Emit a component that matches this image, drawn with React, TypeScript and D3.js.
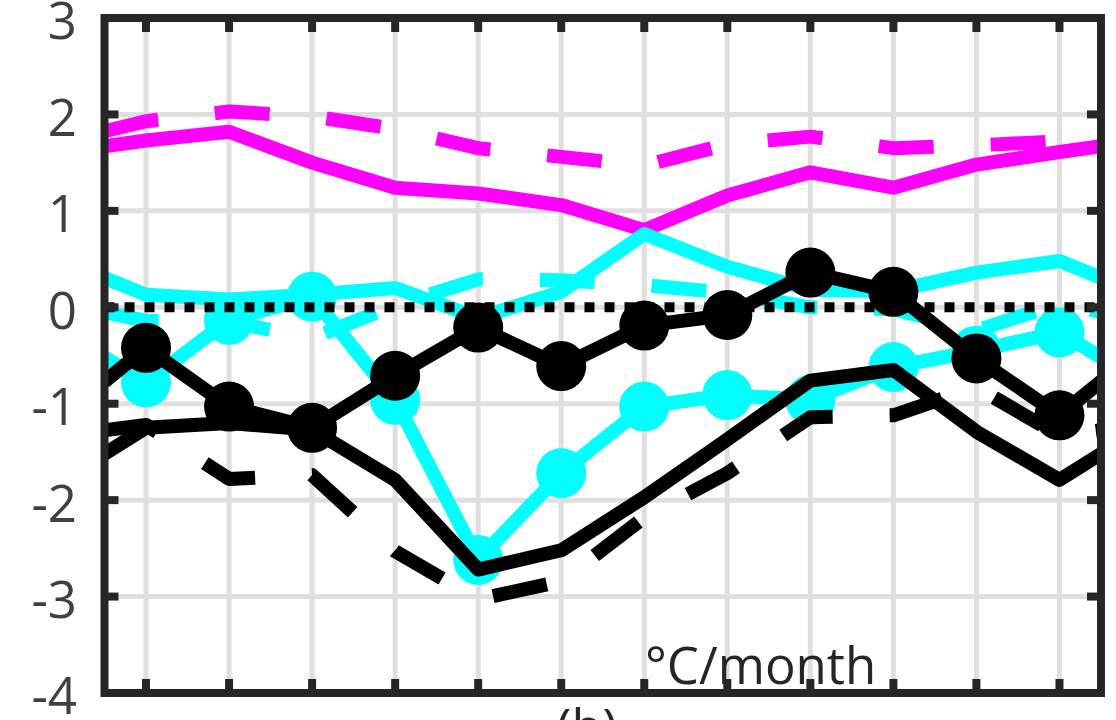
import React from "react";
import * as d3 from "d3";

const months = [1, 2, 3, 4, 5, 6, 7, 8, 9, 10, 11, 12];
const yTicks = [-4, -3, -2, -1, 0, 1, 2, 3];
const yTickLabels = ["-4", "-3", "-2", "-1", "0", "1", "2", "3"];

const magentaSolid = [1.73, 1.82, 1.5, 1.24, 1.18, 1.06, 0.8, 1.16, 1.4, 1.24, 1.48, 1.61];
const magentaDashed = [1.93, 2.03, 1.98, 1.85, 1.65, 1.56, 1.47, 1.69, 1.77, 1.65, 1.68, 1.72];
const cyanSolid = [0.13, 0.08, 0.13, 0.2, -0.11, 0.16, 0.76, 0.42, 0.18, 0.17, 0.36, 0.48];
const cyanDashed = [-0.14, -0.15, -0.32, 0.02, 0.29, 0.28, 0.23, 0.15, 0.0, -0.02, -0.24, 0.04];
const cyanMarked = [-0.78, -0.13, 0.11, -0.96, -2.62, -1.72, -1.03, -0.91, -0.96, -0.62, -0.45, -0.26];
const blackSolid = [-1.25, -1.2, -1.27, -1.79, -2.72, -2.52, -1.97, -1.37, -0.76, -0.65, -1.29, -1.79];
const blackDashed = [-1.22, -1.78, -1.74, -2.53, -3.03, -2.84, -2.18, -1.72, -1.14, -1.12, -0.83, -1.33];
const blackMarked = [-0.42, -1.03, -1.25, -0.71, -0.21, -0.61, -0.19, -0.08, 0.36, 0.16, -0.53, -1.12];

const unitLabel = "°C/month";
const panelLabel = "(b)";

const W = 1116;
const H = 720;
const XL = 104.5;
const XR = 1101;
const YT = 18;
const YB = 693;

const x = d3.scaleLinear().domain([0.5, 12.5]).range([XL, XR]);
const y = d3.scaleLinear().domain([-4, 3]).range([YB, YT]);

type P = [number, number];

// periodic (wrapped) series: December before January, January after December
function wrapped(vals: number[]): P[] {
  const pts: P[] = [[0, vals[11]], ...vals.map((v, i) => [months[i], v] as P), [13, vals[0]]];
  return pts.map(([m, v]) => [x(m), y(v)] as P);
}

// clip polyline in pixel space to [xl, xr]
function clipX(pts: P[], xl: number, xr: number): P[] {
  const out: P[] = [];
  for (let i = 0; i < pts.length - 1; i++) {
    const [x0, y0] = pts[i];
    const [x1, y1] = pts[i + 1];
    const a = Math.max(x0, xl);
    const b = Math.min(x1, xr);
    if (a > b) continue;
    const f = (xx: number) => y0 + ((xx - x0) / (x1 - x0)) * (y1 - y0);
    if (out.length === 0) out.push([a, f(a)]);
    out.push([b, f(b)]);
  }
  return out;
}

const line = d3.line<P>().x((d) => d[0]).y((d) => d[1]);

function seriesPath(vals: number[]) {
  return line(clipX(wrapped(vals), XL, XR)) || "";
}

const MAGENTA = "#ff00ff";
const CYAN = "#00ffff";
const BLACK = "#000000";
const AXIS = "#262626";
const GRID = "#dfdfdf";
const LW = 14;
const DASH = "55 57";

export default function App() {
  const font = "'Open Sans', 'Noto Sans', sans-serif";
  return (
    <svg
      width={W}
      height={H}
      style={{ position: "absolute", left: 0, top: 0, background: "#fff" }}
      xmlns="http://www.w3.org/2000/svg"
    >
      <defs>
        <clipPath id="plotClip">
          <rect x={XL} y={YT} width={XR - XL} height={YB - YT} />
        </clipPath>
      </defs>
      <rect x={0} y={0} width={W} height={H} fill="#fff" />
      {/* grid */}
      <g stroke={GRID} strokeWidth={5}>
        {months.map((m) => (
          <line key={"vg" + m} x1={x(m)} x2={x(m)} y1={YT} y2={YB} />
        ))}
        {yTicks
          .filter((v) => v > -4 && v < 3)
          .map((v) => (
            <line key={"hg" + v} x1={XL} x2={XR} y1={y(v)} y2={y(v)} />
          ))}
      </g>
      {/* data */}
      <g clipPath="url(#plotClip)" fill="none" strokeLinejoin="round">
        <path d={seriesPath(magentaSolid)} stroke={MAGENTA} strokeWidth={LW} />
        <path d={seriesPath(magentaDashed)} stroke={MAGENTA} strokeWidth={LW} strokeDasharray={DASH} />
        <path d={seriesPath(cyanSolid)} stroke={CYAN} strokeWidth={LW} />
        <path d={seriesPath(cyanDashed)} stroke={CYAN} strokeWidth={LW} strokeDasharray={DASH} />
        <path d={seriesPath(cyanMarked)} stroke={CYAN} strokeWidth={LW} />
        {cyanMarked.map((v, i) => (
          <circle key={"cm" + i} cx={x(months[i])} cy={y(v)} r={25} fill={CYAN} stroke="none" />
        ))}
        <line x1={XL} x2={XR} y1={y(0)} y2={y(0)} stroke={BLACK} strokeWidth={10} strokeDasharray="10 10" />
        <path d={seriesPath(blackSolid)} stroke={BLACK} strokeWidth={LW} />
        <path d={seriesPath(blackDashed)} stroke={BLACK} strokeWidth={LW} strokeDasharray={DASH} />
        <path d={seriesPath(blackMarked)} stroke={BLACK} strokeWidth={LW} />
        {blackMarked.map((v, i) => (
          <circle key={"bm" + i} cx={x(months[i])} cy={y(v)} r={25} fill={BLACK} stroke="none" />
        ))}
      </g>
      {/* ticks */}
      <g stroke={AXIS} strokeWidth={8}>
        {months.map((m) => (
          <g key={"t" + m}>
            <line x1={x(m)} x2={x(m)} y1={YT} y2={YT + 14} />
            <line x1={x(m)} x2={x(m)} y1={YB} y2={YB - 14} />
          </g>
        ))}
        {yTicks.map((v) => (
          <g key={"yt" + v}>
            <line x1={XL} x2={XL + 14} y1={y(v)} y2={y(v)} />
            <line x1={XR} x2={XR - 14} y1={y(v)} y2={y(v)} />
          </g>
        ))}
      </g>
      {/* axes box */}
      <rect x={XL} y={YT} width={XR - XL} height={YB - YT} fill="none" stroke={AXIS} strokeWidth={8} />
      {/* y tick labels */}
      <g fontFamily={font} fontSize={51} fill="#404040" textAnchor="end">
        {yTicks.map((v, i) => (
          <text key={"yl" + v} x={77} y={y(v)} dy="0.42em">
            {yTickLabels[i]}
          </text>
        ))}
      </g>
      <text x={645} y={684} fontFamily={font} fontSize={51} fill={AXIS}>
        {unitLabel}
      </text>
      <text x={587} y={746} fontFamily={font} fontSize={51} fill={AXIS} textAnchor="middle">
        {panelLabel}
      </text>
    </svg>
  );
}
